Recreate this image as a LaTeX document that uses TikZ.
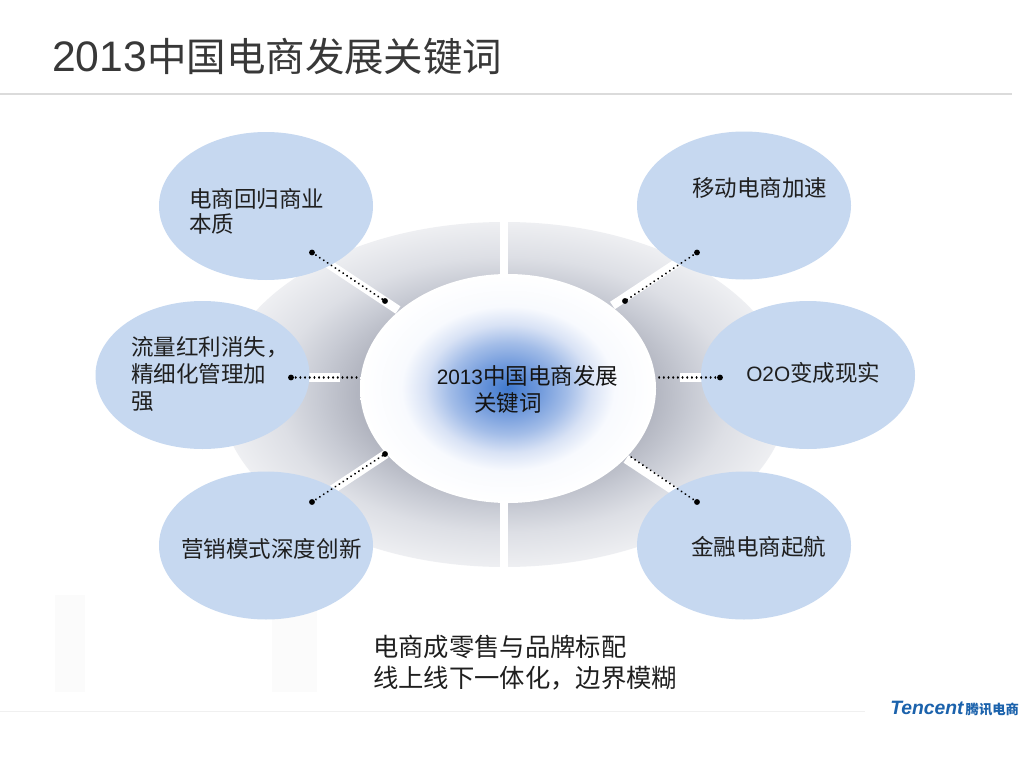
\documentclass[tikz,border=0pt]{standalone}
\usepackage{fontspec}
\setmainfont{Liberation Sans}
\newfontfamily\cjk{Noto Sans CJK SC}
\usetikzlibrary{shapes.geometric}
\definecolor{bub}{HTML}{C6D8F0}
\definecolor{logoblue}{HTML}{1B62AC}
\definecolor{rA}{HTML}{A4A8B6}
\definecolor{rB}{HTML}{B2B5C0}
\definecolor{rC}{HTML}{C8CBD4}
\definecolor{rD}{HTML}{DDDFE5}
\definecolor{rE}{HTML}{EEEFF2}
\definecolor{cA}{HTML}{4079CE}
\definecolor{cB}{HTML}{6E98DB}
\definecolor{cC}{HTML}{A3BDE8}
\definecolor{cD}{HTML}{D8E2F5}
\definecolor{cE}{HTML}{F8FAFE}
\pgfdeclareradialshading{ringshade}{\pgfpoint{0bp}{0bp}}{color(0bp)=(rA);color(13bp)=(rB);color(16.5bp)=(rC);color(20bp)=(rD);color(25bp)=(rE);color(50bp)=(rE)}
\pgfdeclareradialshading{coreshade}{\pgfpoint{0bp}{0bp}}{color(0bp)=(cA);color(5bp)=(cB);color(10bp)=(cC);color(14bp)=(cD);color(18bp)=(cE);color(25bp)=(white);color(50bp)=(white)}
\newcommand{\bodytxt}{\fontsize{16.9pt}{18.75pt}\selectfont\cjk}
\newcommand{\dg}[1]{{\rmfamily\fontsize{15.6pt}{18.75pt}\selectfont #1}}
\tikzset{
  bubble/.style={ellipse,fill=bub,minimum width=160.5pt,minimum height=111pt,inner sep=0pt},
  txt/.style={inner sep=0pt,anchor=west,align=left,text=black!88,font=\bodytxt},
  band/.style={white,line width=6.6pt},
  dotmark/.style={circle,fill=black,inner sep=0pt,minimum size=4.4pt},
  dotline/.style={black,line width=1.6pt,line cap=round,dash pattern=on 0.01pt off 3.5pt},
  ghost/.style={fill=black!1.5,draw=none}
}
\begin{document}
\begin{tikzpicture}[x=0.75pt,y=-0.75pt]
\useasboundingbox (0,0) rectangle (1024,774);
\fill[white] (0,0) rectangle (1024,774);
% faint ghosts
\fill[ghost] (55,595) rectangle (85,692);
\fill[ghost] (272,610) rectangle (317,692);
% rules
\draw[black!14,line width=1.5pt] (0,94.5) -- (1012,94.5);
\draw[black!6,line width=0.8pt] (0,711.5) -- (865,711.5);
% title
\node[inner sep=0pt,anchor=base west,text=black!78] (title) at (52,72) {{\fontsize{32pt}{36pt}\selectfont 2013}{\fontsize{29.6pt}{36pt}\selectfont\cjk 中国电商发展关键词}};
% ring
\shade[shading=ringshade] (504.5,394.5) ellipse [x radius=284,y radius=172.5];
\fill[white] (500.4,215) rectangle (508.4,575);
\draw[band] (398,310) -- (300,245);
\draw[band] (612.5,305.5) -- (710,241);
\draw[band] (386,454) -- (300,511);
\draw[band] (626,459) -- (710,514.5);
\draw[band] (340,377.5) -- (290,377.5);
\draw[band] (680,377.5) -- (730,377.5);
% core
\node[ellipse,minimum width=222pt,minimum height=171.75pt,inner sep=0pt,shading=coreshade] (core) at (508,388.5) {};
\node[inner sep=0pt,align=center,font=\bodytxt,text=black!92] (coret) at (527.5,389.5) {\dg{2013}中国电商发展\\[1.3pt]\hspace*{-29pt}关键词};
% bubbles
\node[bubble] (b1) at (266,206) {};
\node[bubble] (b2) at (202.5,375) {};
\node[bubble] (b3) at (266,545.5) {};
\node[bubble] (b4) at (744,205.5) {};
\node[bubble] (b5) at (808,375) {};
\node[bubble] (b6) at (744,545.5) {};
% labels
\node[txt] (t1) at (189,211) {电商回归商业\\本质};
\node[txt,font=\fontsize{16.9pt}{20.6pt}\selectfont\cjk] (t2) at (131,374) {流量红利消失，\\精细化管理加\\强};
\node[txt] (t3) at (181,549) {营销模式深度创新};
\node[txt] (t4) at (692,188) {移动电商加速};
\node[txt] (t5) at (746,373) {\dg{O2O}变成现实};
\node[txt] (t6) at (691,547) {金融电商起航};
\node[txt,font=\fontsize{19pt}{23.2pt}\selectfont\cjk] (t7) at (373,662.5) {电商成零售与品牌标配\\线上线下一体化，边界模糊};
% connectors
\node[dotmark] (a1) at (312,252.5) {};
\node[dotmark] (c1) at (385,301) {};
\node[dotmark] (a2) at (291,377.5) {};
\node[inner sep=0pt] (c2) at (360,377.5) {};
\node[dotmark] (a3) at (312,502) {};
\node[dotmark] (c3) at (385,454) {};
\node[dotmark] (a4) at (697,252.5) {};
\node[dotmark] (c4) at (625,301) {};
\node[dotmark] (a5) at (720,377.5) {};
\node[inner sep=0pt] (c5) at (656,377.5) {};
\node[dotmark] (a6) at (697,502) {};
\node[inner sep=0pt] (c6) at (631,457) {};
\foreach \p/\q in {a1/c1,a2/c2,a3/c3,a4/c4,a5/c5,a6/c6}{\draw[dotline] (\p.center) -- (\q.center);}
% logo
\node[inner sep=0pt,anchor=west,text=logoblue] (logo) at (890,709) {{\fontsize{14.5pt}{16pt}\selectfont\bfseries\itshape Tencent}\hspace{1.5pt}{\fontsize{10pt}{12pt}\selectfont\cjk\bfseries 腾讯电商}};
\end{tikzpicture}
\end{document}
